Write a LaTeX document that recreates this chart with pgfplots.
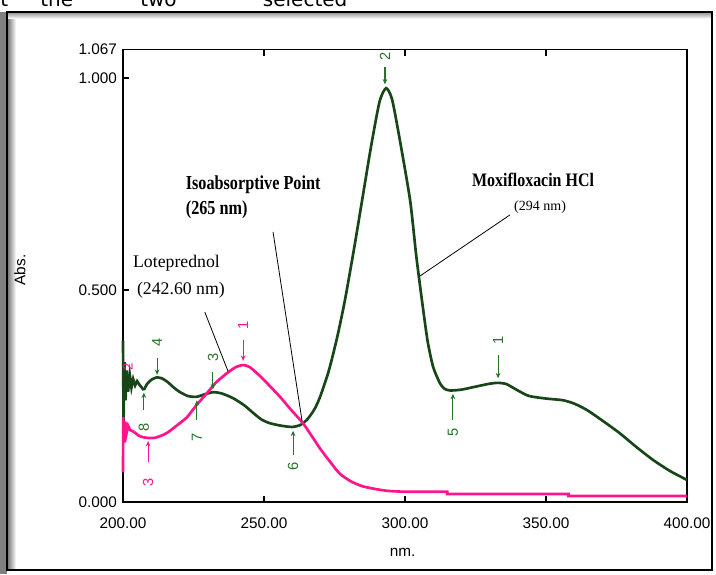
\documentclass[border=0pt]{standalone}
\usepackage{fontspec}
\setmainfont{Liberation Sans}
\newfontfamily\tnr{Liberation Serif}
\newfontfamily\dvs{DejaVu Sans}
\usepackage{pgfplots}
\pgfplotsset{compat=1.18}
\usetikzlibrary{arrows.meta}
\definecolor{mgreen}{RGB}{24,70,24}
\definecolor{lgreen}{RGB}{40,115,40}
\definecolor{mpink}{RGB}{255,20,140}

\newcommand{\mk}[5]{%
  \draw[#5, line width=0.8pt, -{Stealth[length=4pt,width=3.5pt]}] (axis cs:#1,#3) -- (axis cs:#1,#2);
  \node[#5, rotate=90, inner sep=0pt, font=\fontsize{11}{11}\selectfont] at (axis cs:#1,#4) {#5X};}
\newcommand{\mkk}[6]{%
  \draw[#6, line width=0.8pt, -{Stealth[length=4pt,width=3.5pt]}] (axis cs:#1,#3) -- (axis cs:#1,#2);
  \node[#6, rotate=90, inner sep=0pt, font=\fontsize{11}{11}\selectfont] at (axis cs:#1,#4) {#5};}

\begin{document}
\begin{tikzpicture}[x=1pt,y=1pt]
\useasboundingbox (0,0) rectangle (537,430.5);
% top cropped document text
\node[anchor=base west, inner sep=0pt, font=\dvs\fontsize{15}{15}\selectfont] at (0,425.5) {t};
\node[anchor=base west, inner sep=0pt, font=\dvs\fontsize{15}{15}\selectfont] at (30,425.5) {the};
\node[anchor=base west, inner sep=0pt, font=\dvs\fontsize{15}{15}\selectfont] at (105,425.5) {two};
\node[anchor=base west, inner sep=0pt, font=\dvs\fontsize{15}{15}\selectfont] at (197,425.5) {selected};
% frame with shadow
\shade[left color=black!55, right color=white] (5.5,3) rectangle (12,421.5);
\shade[top color=black!45, bottom color=white] (5.5,416.5) rectangle (534,421.5);
\fill[black!50] (0,0) rectangle (5.5,421.5);
\draw[line width=1.6pt] (5.5,3) rectangle (534,421.5);
% axis labels
\node[rotate=90, font=\fontsize{11.5}{12}\selectfont] at (15,228) {Abs.};
\node[font=\fontsize{11.5}{12}\selectfont] at (302,16.5) {nm.};
\begin{axis}[
  at={(92.25pt,54pt)}, anchor=south west, scale only axis,
  width=423pt, height=339.3pt,
  xmin=200, xmax=400, ymin=0, ymax=1.067,
  xtick={200,250,300,350,400},
  xticklabels={200.00,250.00,300.00,350.00,400.00},
  ytick={0,0.5,1,1.067},
  yticklabels={0.000,0.500,1.000,1.067},
  xtick pos=both, ytick pos=left, tick align=inside,
  major tick length=4.5pt,
  axis line style={line width=1pt},
  every tick/.style={black, line width=0.8pt},
  tick label style={font=\fontsize{11.5}{12}\selectfont},
  xticklabel style={yshift=-8pt},
  yticklabel style={xshift=-1pt},
  clip=false,
]
% Moxifloxacin HCl (green), noisy start
\addplot[mgreen, line width=2pt] coordinates {
(200,0.38) (200.2,0.19) (200.5,0.33) (200.9,0.24) (201.3,0.31) (201.8,0.26)
(202.4,0.30) (203,0.27) (203.6,0.29) (204.3,0.275) (205,0.285) (206,0.275)
(207.4,0.264)};
\addplot[mgreen, line width=2pt, smooth, tension=0.4] coordinates {
(207.4,0.264) (208.5,0.278) (210,0.288) (212,0.294) (214,0.291) (216,0.282)
(218,0.27) (220,0.26) (223,0.25) (226,0.248) (229,0.254) (232,0.259) (235,0.256)
(239,0.245) (243,0.228) (246,0.211) (249,0.195) (252,0.186) (256,0.18) (260,0.177)
(263,0.182) (265.5,0.196) (268,0.22) (270,0.25) (273,0.31) (276,0.39) (278.7,0.476)
(282,0.6) (284.8,0.712) (288,0.84) (291,0.945) (293.3,0.976) (295.4,0.95)
(298,0.86) (301.8,0.712) (304,0.58) (306,0.476) (308,0.38) (310,0.318) (312.4,0.28)
(314,0.267) (316,0.263) (320,0.265) (325,0.272) (330,0.279) (333,0.281) (336,0.278)
(340,0.263) (344,0.25) (350,0.244) (356,0.24) (360,0.232) (364.5,0.217) (370,0.192)
(376,0.163) (382,0.13) (388,0.099) (394,0.073) (400,0.052)};
% Loteprednol (pink), noisy start
\addplot[mpink, line width=2pt] coordinates {
(200,0.07) (200.1,0.20) (200.4,0.14) (200.8,0.19) (201.2,0.16) (201.8,0.18)
(202.5,0.17) (204,0.165)};
\addplot[mpink, line width=2pt, smooth, tension=0.4] coordinates {
(204,0.165) (205.5,0.157) (207,0.153) (209,0.151) (211,0.151) (213,0.155)
(215.6,0.163) (219,0.18) (222.7,0.2) (226,0.228) (229.8,0.257) (233,0.282)
(236.9,0.304) (240,0.318) (242.6,0.323) (245,0.318) (248.6,0.297) (252,0.274)
(255.7,0.248) (259,0.222) (263.8,0.186) (267,0.155) (270,0.125) (274,0.09)
(277,0.066) (281,0.048) (285,0.037) (290,0.03) (294,0.026)};
\addplot[mpink, line width=2pt] coordinates {
(294,0.026) (300,0.024) (315,0.024) (315,0.019) (358,0.019) (358,0.014) (400,0.014)};
% peak / valley markers (green)
\mkk{292.9}{0.985}{1.025}{1.052}{2}{lgreen}
\mkk{333}{0.292}{0.347}{0.382}{1}{lgreen}
\mkk{317}{0.255}{0.193}{0.165}{5}{lgreen}
\mkk{260.3}{0.168}{0.111}{0.085}{6}{lgreen}
\mkk{226.2}{0.240}{0.193}{0.153}{7}{lgreen}
\mkk{231.9}{0.266}{0.307}{0.342}{3}{lgreen}
\mkk{212.1}{0.300}{0.340}{0.377}{4}{lgreen}
\mkk{207.4}{0.258}{0.217}{0.175}{8}{lgreen}
% markers (pink)
\mkk{242.6}{0.333}{0.382}{0.417}{1}{mpink}
\mkk{208.9}{0.144}{0.094}{0.047}{3}{mpink}
\node[mpink, rotate=90, inner sep=0pt, font=\fontsize{10}{10}\selectfont] at (axis cs:201.8,0.318) {2};
% annotations
\draw[black, line width=0.6pt] (axis cs:229,0.448) -- (axis cs:237.2,0.309);
\draw[black, line width=0.6pt] (axis cs:253.2,0.637) -- (axis cs:263.5,0.191);
\draw[black, line width=0.6pt] (axis cs:337.2,0.677) -- (axis cs:305.3,0.533);
\node[anchor=west, inner sep=0pt, font=\tnr\fontsize{13.3}{14}\selectfont] at (axis cs:203.5,0.564) {Loteprednol};
\node[anchor=west, inner sep=0pt, font=\tnr\fontsize{13.3}{14}\selectfont] at (axis cs:204.9,0.500) {(242.60 nm)};
\node[anchor=west, inner sep=0pt, font=\tnr\bfseries\fontsize{13.5}{14}\selectfont] at (axis cs:222.2,0.748) {\scalebox{0.9}[1.1]{Isoabsorptive Point}};
\node[anchor=west, inner sep=0pt, font=\tnr\bfseries\fontsize{13.5}{14}\selectfont] at (axis cs:222.2,0.689) {\scalebox{0.9}[1.1]{(265 nm)}};
\node[inner sep=0pt, font=\tnr\bfseries\fontsize{13}{14}\selectfont] at (axis cs:345.4,0.759) {\scalebox{0.92}[1.1]{Moxifloxacin HCl}};
\node[inner sep=0pt, font=\tnr\fontsize{10.5}{12}\selectfont] at (axis cs:347.9,0.696) {(294 nm)};
\end{axis}
\end{tikzpicture}
\end{document}
